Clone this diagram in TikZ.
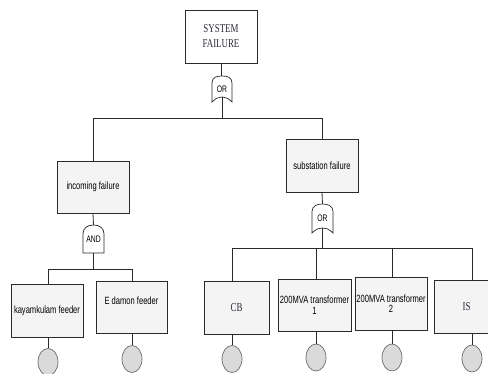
\documentclass[tikz,border=0pt]{standalone}
\usepackage{fontspec}
\usetikzlibrary{calc,shapes.geometric}
\newfontfamily\narsans[FakeStretch=0.72]{Liberation Sans}
\newfontfamily\narserif[FakeStretch=0.74]{Liberation Serif}
\definecolor{boxfill}{HTML}{F4F4F4}
\definecolor{linec}{HTML}{2A2A2A}
\definecolor{circfill}{HTML}{DADADA}
\definecolor{circline}{HTML}{6A6A6A}
\definecolor{toptext}{HTML}{2E2A36}
\begin{document}
\begin{tikzpicture}[x=1pt,y=-1pt,
  evbox/.style={draw=linec,line width=0.8pt,fill=boxfill,minimum width=72pt,minimum height=53pt,inner sep=1pt,align=center,
    font=\narsans\fontsize{10.5}{11.5}\selectfont},
  serifbox/.style={evbox,font=\narserif\fontsize{12}{15}\selectfont,text=toptext},
  gatenode/.style={minimum width=20pt,minimum height=26pt,inner sep=0pt,font=\narsans\fontsize{9.5}{10}\selectfont},
  gateline/.style={draw=linec,line width=0.7pt,fill=white},
  basic/.style={ellipse,draw=circline,line width=0.7pt,fill=circfill,minimum width=20pt,minimum height=27pt,inner sep=0pt},
  conn/.style={draw=linec,line width=0.8pt}]
\clip (0,0) rectangle (488,374);
\fill[white] (0,0) rectangle (488,374);

% top event
\node[serifbox,fill=white] (top) at (221,36.5) {SYSTEM\\FAILURE};

% OR gate 1
\coordinate (g1c) at (222,89);
\path[gateline] ($(g1c)+(-10,13)$) -- ($(g1c)+(-10,-6)$)
  .. controls ($(g1c)+(-10,-12)$) and ($(g1c)+(-5,-13)$) .. ($(g1c)+(0,-13)$)
  .. controls ($(g1c)+(5,-13)$) and ($(g1c)+(10,-12)$) .. ($(g1c)+(10,-6)$)
  -- ($(g1c)+(10,13)$)
  .. controls ($(g1c)+(6,9)$) and ($(g1c)+(3,8)$) .. ($(g1c)+(0,8)$)
  .. controls ($(g1c)+(-3,8)$) and ($(g1c)+(-6,9)$) .. ($(g1c)+(-10,13)$) -- cycle;
\node[gatenode] (g1) at (g1c) {OR};

% intermediate events
\node[evbox,minimum height=52pt] (inc) at (93,187) {incoming failure};
\node[evbox] (sub) at (322,165.5) {substation failure};

% AND gate
\coordinate (g2c) at (93.5,239);
\path[gateline] ($(g2c)+(-10.5,14)$) -- ($(g2c)+(-10.5,-5)$)
  .. controls ($(g2c)+(-10.5,-11)$) and ($(g2c)+(-6,-14)$) .. ($(g2c)+(0,-14)$)
  .. controls ($(g2c)+(6,-14)$) and ($(g2c)+(10.5,-11)$) .. ($(g2c)+(10.5,-5)$)
  -- ($(g2c)+(10.5,14)$) -- cycle;
\node[gatenode,minimum width=21pt,minimum height=28pt] (g2) at (g2c) {AND};

% OR gate 2
\coordinate (g3c) at (322.5,218.5);
\path[gateline] ($(g3c)+(-10.5,14.5)$) -- ($(g3c)+(-10.5,-7)$)
  .. controls ($(g3c)+(-10.5,-13)$) and ($(g3c)+(-5,-14.5)$) .. ($(g3c)+(0,-14.5)$)
  .. controls ($(g3c)+(5,-14.5)$) and ($(g3c)+(10.5,-13)$) .. ($(g3c)+(10.5,-7)$)
  -- ($(g3c)+(10.5,14.5)$)
  .. controls ($(g3c)+(6,10)$) and ($(g3c)+(3,9.5)$) .. ($(g3c)+(0,9.5)$)
  .. controls ($(g3c)+(-3,9.5)$) and ($(g3c)+(-6,10)$) .. ($(g3c)+(-10.5,14.5)$) -- cycle;
\node[gatenode,minimum width=21pt,minimum height=29pt] (g3) at (g3c) {OR};

% basic events (boxes)
\node[evbox] (kay) at (47,310.5) {kayamkulam feeder};
\node[evbox,minimum width=71pt,minimum height=52pt,text depth=12pt] (eda) at (131.5,307) {E damon feeder};
\node[serifbox,minimum width=65pt] (cb) at (236.5,307.5) {CB};
\node[evbox,minimum width=73pt,minimum height=52pt,font=\narsans\fontsize{10.5}{10.5}\selectfont] (t1) at (314.5,305) {200MVA transformer\\1};
\node[evbox,font=\narsans\fontsize{10.5}{10.5}\selectfont] (t2) at (391,303.5) {200MVA transformer\\2};
\node[serifbox,minimum width=65pt] (is) at (466.5,306.5) {IS};

% bar coordinates
\coordinate (b1l) at (93,118);
\coordinate (b1r) at (322,118);
\coordinate (b2l) at (48,269);
\coordinate (b2r) at (132,269);
\coordinate (v1) at (232,248);
\coordinate (v2) at (316,248);
\coordinate (v3) at (392,248);
\coordinate (v4) at (472,248);

% circles
\node[basic] (ckay) at (48,362) {};
\node[basic] (ceda) at (132,359) {};
\node[basic] (ccb) at (232,359) {};
\node[basic] (ct1) at (316,357.5) {};
\node[basic] (ct2) at (392,357.5) {};
\node[basic] (cis) at (472,358.5) {};

% connectors
\draw[conn] (top.south) -- (top.south |- g1.north);
\draw[conn] ($(g1.south)+(0,-5)$) -- (g1.south |- b1l);
\draw[conn] (inc.north) -- (b1l) -- (b1r) -- (sub.north);

\draw[conn] (inc.south) -- (g2.north);
\draw[conn] (g2.south) -- (g2.south |- b2l);
\draw[conn] (kay.north -| b2l) -- (b2l) -- (b2r) -- (eda.north -| b2r);

\draw[conn] (sub.south) -- (g3.north);
\draw[conn] ($(g3.south)+(0,-5)$) -- (g3.south |- v1);
\draw[conn] (v1) -- (v4);
\draw[conn] (v1) -- (v1 |- cb.north);
\draw[conn] (v2) -- (v2 |- t1.north);
\draw[conn] (v3) -- (v3 |- t2.north);
\draw[conn] (v4) -- (v4 |- is.north);

\draw[conn] (kay.south -| ckay) -- (ckay.north);
\draw[conn] (eda.south -| ceda) -- (ceda.north);
\draw[conn] (cb.south -| ccb) -- (ccb.north);
\draw[conn] (t1.south -| ct1) -- (ct1.north);
\draw[conn] (t2.south -| ct2) -- (ct2.north);
\draw[conn] (is.south -| cis) -- (cis.north);
\end{tikzpicture}
\end{document}
